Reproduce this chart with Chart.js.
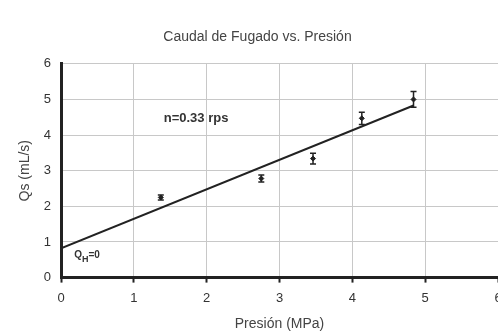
<!DOCTYPE html>
<html>
<head>
<meta charset="utf-8">
<script src="https://cdn.jsdelivr.net/npm/chart.js@4"></script>
<style>
  html, body { margin: 0; padding: 0; background: #fff; overflow: hidden; }
  #wrap { width: 546px; height: 333px; }
</style>
</head>
<body>
<div id="wrap"><canvas id="chart"></canvas></div>
<script>
const presion = [1.37, 2.75, 3.46, 4.13, 4.84];
const caudal = [2.25, 2.78, 3.34, 4.47, 5.0];
const errorCaudal = [0.07, 0.1, 0.15, 0.17, 0.22];

// línea de tendencia (extremos)
const tendenciaX = [0, 4.84];
const tendenciaY = [0.82, 4.83];

const ticksX = [0, 1, 2, 3, 4, 5, 6];
const ticksY = [0, 1, 2, 3, 4, 5, 6];

const fuente = "'Liberation Sans', Arial, sans-serif";

const errorBars = {
  id: "errorBars",
  afterDatasetsDraw(chart) {
    const { ctx, scales: { x, y } } = chart;
    ctx.save();
    ctx.strokeStyle = "#222";
    ctx.lineWidth = 1.5;
    presion.forEach((p, i) => {
      const px = x.getPixelForValue(p);
      const top = y.getPixelForValue(caudal[i] + errorCaudal[i]);
      const bot = y.getPixelForValue(caudal[i] - errorCaudal[i]);
      ctx.beginPath();
      ctx.moveTo(px, top); ctx.lineTo(px, bot);
      ctx.moveTo(px - 3, top); ctx.lineTo(px + 3, top);
      ctx.moveTo(px - 3, bot); ctx.lineTo(px + 3, bot);
      ctx.stroke();
    });

    // textos dentro del gráfico
    ctx.fillStyle = "#333";
    ctx.textBaseline = "middle";
    ctx.font = "bold 13px " + fuente;
    ctx.fillText("n=0.33 rps", x.getPixelForValue(1.41), y.getPixelForValue(4.48));
    const qx = x.getPixelForValue(0.18), qy = y.getPixelForValue(0.63);
    ctx.font = "bold 10px " + fuente;
    ctx.fillText("Q", qx, qy);
    const w = ctx.measureText("Q").width;
    ctx.font = "bold 9px " + fuente;
    ctx.fillText("H", qx + w, qy + 4);
    const wh = ctx.measureText("H").width;
    ctx.font = "bold 10px " + fuente;
    ctx.fillText("=0", qx + w + wh, qy);
    ctx.restore();
  }
};

new Chart(document.getElementById("chart"), {
  type: "scatter",
  data: {
    datasets: [
      {
        label: "Qs",
        data: presion.map((p, i) => ({ x: p, y: caudal[i] })),
        pointStyle: "rectRot",
        pointRadius: 2.5,
        backgroundColor: "#222",
        borderColor: "#222"
      },
      {
        type: "line",
        label: "Tendencia",
        data: tendenciaX.map((p, i) => ({ x: p, y: tendenciaY[i] })),
        borderColor: "#222",
        borderWidth: 2,
        pointRadius: 0,
        fill: false
      }
    ]
  },
  plugins: [errorBars],
  options: {
    responsive: true,
    maintainAspectRatio: false,
    animation: false,
    layout: { padding: { top: 29, left: 17, right: 48, bottom: 0 } },
    plugins: {
      legend: { display: false },
      tooltip: { enabled: false },
      title: {
        display: true,
        text: "Caudal de Fugado vs. Presión",
        color: "#444",
        font: { family: fuente, size: 14, weight: "normal" },
        padding: { top: 0, bottom: 18 }
      }
    },
    scales: {
      x: {
        type: "linear",
        min: 0, max: 6,
        afterBuildTicks: s => { s.ticks = ticksX.map(v => ({ value: v })); },
        grid: { color: "#c8c8c8", tickColor: "#222", tickLength: 5, tickWidth: 2 },
        border: { color: "#222", width: 3 },
        ticks: { color: "#333", font: { family: fuente, size: 13 }, padding: 8 },
        title: {
          display: true,
          text: "Presión (MPa)",
          color: "#444",
          font: { family: fuente, size: 14 },
          padding: { top: 2, bottom: 0 }
        }
      },
      y: {
        min: 0, max: 6,
        afterBuildTicks: s => { s.ticks = ticksY.map(v => ({ value: v })); },
        grid: { color: "#c8c8c8", drawTicks: false },
        border: { color: "#222", width: 3 },
        ticks: { color: "#333", font: { family: fuente, size: 13 }, padding: 10 },
        title: {
          display: true,
          text: "Qs (mL/s)",
          color: "#444",
          font: { family: fuente, size: 14 },
          padding: { top: 0, bottom: 0 }
        }
      }
    }
  }
});
</script>
</body>
</html>
